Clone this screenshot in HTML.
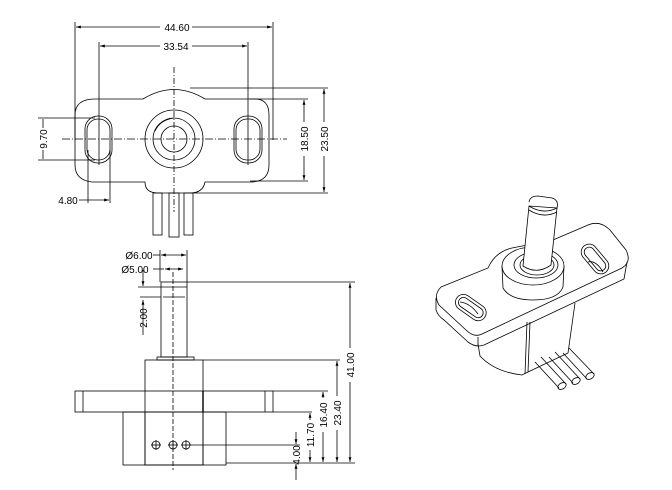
<!DOCTYPE html>
<html><head><meta charset="utf-8"><style>
html,body{margin:0;padding:0;background:#fff;}
svg{display:block;}
text{font-family:"Liberation Sans",sans-serif;font-size:10px;fill:#000;}
</style></head><body>
<svg width="672" height="490" viewBox="0 0 672 490" xmlns="http://www.w3.org/2000/svg">
<defs>
<marker id="a" viewBox="0 0 10 6" refX="10" refY="3" markerWidth="6" markerHeight="4" orient="auto-start-reverse"><path d="M0,0L10,3L0,6z" fill="#000"/></marker>
</defs>
<g fill="none" stroke="#000" stroke-width="0.8">
<!-- TOP VIEW -->
<line x1="75" y1="22" x2="75" y2="140"/>
<line x1="273" y1="22" x2="273" y2="140"/>
<line x1="76" y1="27" x2="160" y2="27" marker-start="url(#a)"/>
<line x1="192" y1="27" x2="272" y2="27" marker-end="url(#a)"/>
<line x1="99" y1="42" x2="99" y2="165"/>
<line x1="248" y1="42" x2="248" y2="165"/>
<line x1="100" y1="46" x2="160" y2="46" marker-start="url(#a)"/>
<line x1="192" y1="46" x2="247" y2="46" marker-end="url(#a)"/>
<line x1="174" y1="67" x2="174" y2="212" stroke-dasharray="6,2,1,2"/>
<line x1="62" y1="139" x2="287" y2="139" stroke-dasharray="8,2,1,2"/>
<path d="M143,99 Q174,80 205,99 L255,99 Q269,99 269,115 L269,165 Q269,182 250,182 L205,182 Q203,193 190,193 L158,193 Q145,193 145,182 L92,182 Q75,180 75,165 L75,115 Q75,99 95,99 Z"/>
<rect x="85" y="116" width="27" height="47" rx="13"/>
<rect x="87" y="119" width="23" height="41" rx="11"/>
<rect x="234" y="116" width="28" height="47" rx="13"/>
<rect x="236" y="119" width="24" height="41" rx="11"/>
<circle cx="174" cy="139" r="29"/>
<circle cx="174" cy="139" r="21"/>
<circle cx="174" cy="139" r="13"/>
<path d="M155,131 Q160,120 174,118" />
<rect x="153" y="193" width="9" height="42"/>
<rect x="169" y="193" width="10" height="44"/>
<rect x="184" y="193" width="9" height="42"/>
<line x1="38" y1="118" x2="95" y2="118"/>
<line x1="38" y1="160" x2="95" y2="160"/>
<line x1="43" y1="119" x2="43" y2="128"/>
<line x1="43" y1="150" x2="43" y2="159"/>
<line x1="88" y1="150" x2="88" y2="203"/>
<line x1="110" y1="150" x2="110" y2="203"/>
<line x1="79" y1="200" x2="109" y2="200" marker-end="url(#a)"/>
<line x1="250" y1="99" x2="308" y2="99"/>
<line x1="250" y1="181" x2="308" y2="181"/>
<line x1="304" y1="100" x2="304" y2="122" marker-start="url(#a)"/>
<line x1="304" y1="156" x2="304" y2="180" marker-end="url(#a)"/>
<line x1="190" y1="88" x2="328" y2="88"/>
<line x1="190" y1="193" x2="328" y2="193"/>
<line x1="324" y1="89" x2="324" y2="122" marker-start="url(#a)"/>
<line x1="324" y1="156" x2="324" y2="192" marker-end="url(#a)"/>
<!-- SIDE VIEW -->
<line x1="160" y1="250" x2="160" y2="282"/>
<line x1="187" y1="250" x2="187" y2="282"/>
<line x1="161" y1="255" x2="186" y2="255" marker-start="url(#a)" marker-end="url(#a)"/>
<line x1="153" y1="255" x2="160" y2="255"/>
<line x1="153" y1="269" x2="164" y2="269"/>
<line x1="165" y1="269" x2="183" y2="269" marker-start="url(#a)" marker-end="url(#a)"/>
<rect x="161" y="282" width="26" height="75"/>
<line x1="161" y1="287" x2="187" y2="287"/>
<line x1="163" y1="297" x2="185" y2="297"/>
<rect x="157" y="357" width="37" height="3"/>
<line x1="143" y1="270" x2="143" y2="286" marker-end="url(#a)"/>
<line x1="143" y1="300" x2="143" y2="335" marker-start="url(#a)"/>
<line x1="138" y1="287" x2="161" y2="287"/>
<line x1="140" y1="297" x2="161" y2="297"/>
<rect x="145" y="360" width="58" height="105"/>
<rect x="75" y="391" width="198" height="21"/>
<line x1="83" y1="391" x2="83" y2="412"/>
<line x1="265" y1="391" x2="265" y2="412"/>
<line x1="203" y1="391" x2="203" y2="412" stroke-width="1.4"/>
<rect x="123" y="412" width="103" height="53"/>
<line x1="145" y1="412" x2="145" y2="465"/>
<line x1="203" y1="412" x2="203" y2="465"/>
<circle cx="156" cy="445" r="4"/><line x1="151" y1="445" x2="161" y2="445"/><line x1="156" y1="440" x2="156" y2="450"/>
<circle cx="173" cy="445" r="4"/><line x1="168" y1="445" x2="178" y2="445"/><line x1="173" y1="440" x2="173" y2="450"/>
<circle cx="186" cy="445" r="4"/><line x1="181" y1="445" x2="191" y2="445"/><line x1="186" y1="440" x2="186" y2="450"/>
<line x1="173" y1="272" x2="173" y2="470" stroke-dasharray="5,2"/>
<line x1="187" y1="282" x2="355" y2="282"/>
<line x1="203" y1="360" x2="340" y2="360"/>
<line x1="273" y1="391" x2="328" y2="391"/>
<line x1="273" y1="412" x2="312" y2="412"/>
<line x1="190" y1="445" x2="300" y2="445"/>
<line x1="226" y1="463" x2="355" y2="463"/>
<line x1="350" y1="283" x2="350" y2="348" marker-start="url(#a)"/>
<line x1="350" y1="382" x2="350" y2="462" marker-end="url(#a)"/>
<line x1="337" y1="361" x2="337" y2="396" marker-start="url(#a)"/>
<line x1="337" y1="430" x2="337" y2="462" marker-end="url(#a)"/>
<line x1="323" y1="392" x2="323" y2="398" marker-start="url(#a)"/>
<line x1="323" y1="432" x2="323" y2="462" marker-end="url(#a)"/>
<line x1="310" y1="413" x2="310" y2="420" marker-start="url(#a)"/>
<line x1="310" y1="450" x2="310" y2="462" marker-end="url(#a)"/>
<line x1="296" y1="432" x2="296" y2="444" marker-end="url(#a)"/>
<line x1="296" y1="480" x2="296" y2="464" marker-end="url(#a)"/>
<!-- ISO VIEW -->
<path d="M478,344 L480,356 Q495,372 522,375 L528,372 L568,353 L575,303"/>
<line x1="527" y1="322" x2="525" y2="374"/>
<line x1="530" y1="322" x2="528" y2="372"/>
<path d="M441,287 L488,268 Q495,252 512,248 L553,240 L588,225 Q600,220 610,230 L626,250 Q632,262 622,268 L482,334 Q474,338 466,330 L439,305 Q433,295 441,287 Z" fill="#fff"/>
<path d="M436,298 L436,310 Q438,316 444,320 L468,342 Q476,348 484,345 L624,279 L627,262"/>
<line x1="478" y1="337" x2="478" y2="346"/>
<rect x="454" y="299" width="34" height="16" rx="8" transform="rotate(35 470 307)"/>
<rect x="457" y="302" width="28" height="10" rx="5" transform="rotate(35 470 307)"/>
<path d="M460,302 Q470,303 478,314"/>
<rect x="578" y="251" width="34" height="16" rx="8" transform="rotate(50 595 259)"/>
<rect x="581" y="254" width="28" height="10" rx="5" transform="rotate(50 595 259)"/>
<path d="M588,262 Q596,260 603,272"/>
<path d="M502,266 L503,288 Q510,300 533,300 Q558,300 563,287 L564,266" fill="#fff"/>
<ellipse cx="533" cy="266" rx="31" ry="19" fill="#fff"/>
<ellipse cx="536" cy="265" rx="22" ry="13"/>
<ellipse cx="537" cy="265" rx="17" ry="10"/>
<path d="M523,266 Q537,275 551,265 L557,208 L529,206 Z" fill="#fff"/>
<path d="M529,206 Q543,215 557,208"/>
<path d="M529,210 Q543,219 557,212"/>
<path d="M529,202 Q530,196 538,196 L552,198 Q559,200 557,208"/>
<path d="M535,362 L559,388 M541,357 L566,384"/>
<ellipse cx="562" cy="386" rx="4.5" ry="3" transform="rotate(-30 562 386)"/>
<path d="M549,357 L573,383 M555,352 L580,379"/>
<ellipse cx="576" cy="381" rx="4.5" ry="3" transform="rotate(-30 576 381)"/>
<path d="M563,353 L587,379 M569,348 L594,374"/>
<ellipse cx="590" cy="376" rx="4.5" ry="3" transform="rotate(-30 590 376)"/>
</g>
<text x="177" y="31" text-anchor="middle">44.60</text>
<text x="176" y="50" text-anchor="middle">33.54</text>
<text x="68" y="204" text-anchor="middle">4.80</text>
<text transform="translate(47,139) rotate(-90)" text-anchor="middle">9.70</text>
<text transform="translate(308,139) rotate(-90)" text-anchor="middle">18.50</text>
<text transform="translate(328,139) rotate(-90)" text-anchor="middle">23.50</text>
<text x="139" y="259" text-anchor="middle">Ø6.00</text>
<text x="135" y="273" text-anchor="middle">Ø5.00</text>
<text transform="translate(147,318) rotate(-90)" text-anchor="middle">2.00</text>
<text transform="translate(354,365) rotate(-90)" text-anchor="middle">41.00</text>
<text transform="translate(341,413) rotate(-90)" text-anchor="middle">23.40</text>
<text transform="translate(327,415) rotate(-90)" text-anchor="middle">16.40</text>
<text transform="translate(314,435) rotate(-90)" text-anchor="middle">11.70</text>
<text transform="translate(300,455) rotate(-90)" text-anchor="middle">4.00</text>
</svg>
</body></html>
